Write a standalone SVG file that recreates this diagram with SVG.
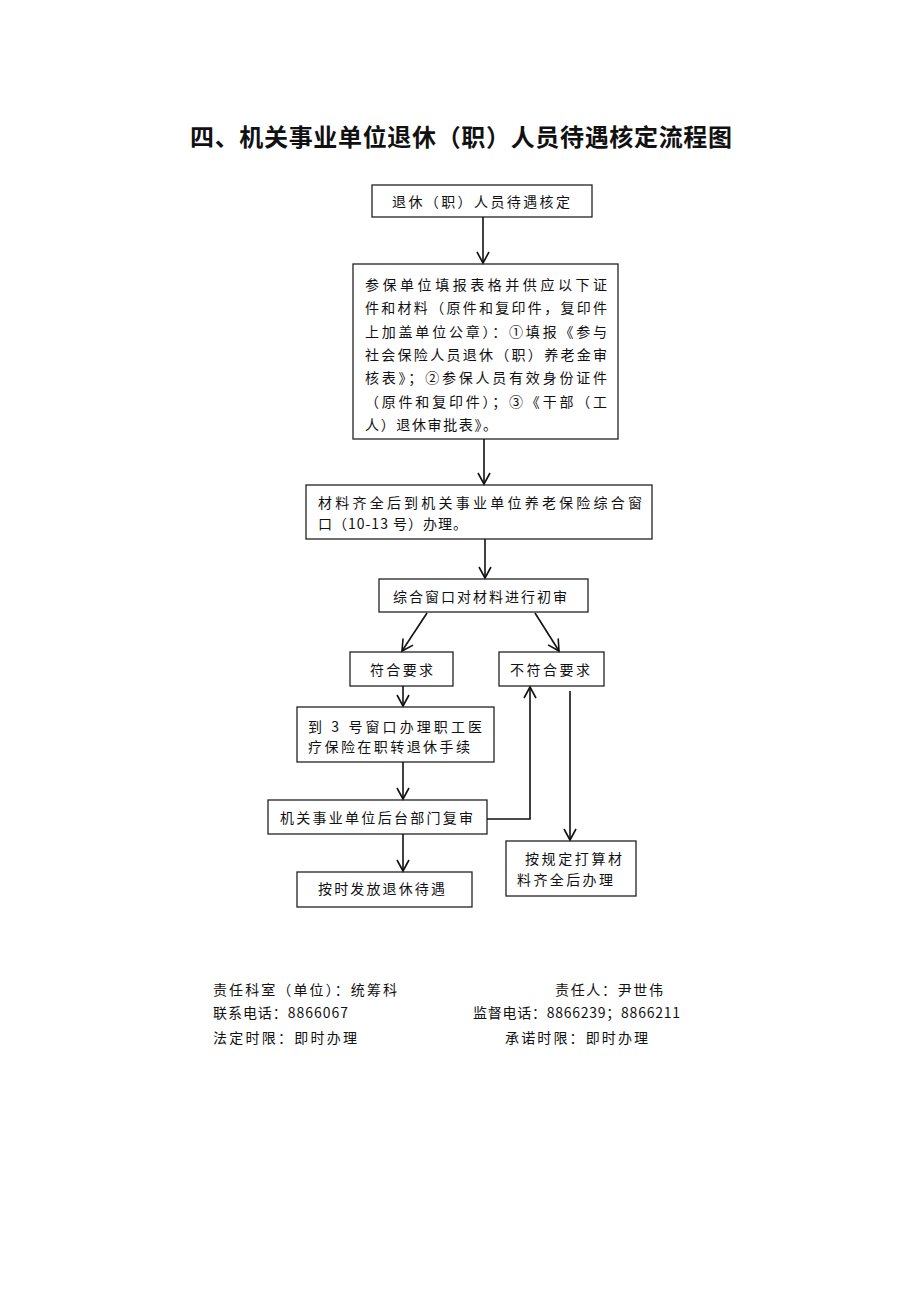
<svg xmlns="http://www.w3.org/2000/svg" width="920" height="1302" viewBox="0 0 920 1302">
<style>
text{font-family:"Noto Sans CJK SC","Noto Sans",sans-serif;fill:#111;font-size:14px}
.title{font-size:24px;font-weight:bold}
.box{fill:#fff;stroke:#222;stroke-width:1.3}
.ln{fill:none;stroke:#111;stroke-width:1.6}
</style>
<defs>
<marker id="ah" markerUnits="userSpaceOnUse" markerWidth="14" markerHeight="14" refX="12" refY="7" orient="auto" viewBox="0 0 14 14">
<path d="M1,1 L12,7 L1,13" fill="none" stroke="#111" stroke-width="1.6"/>
</marker>
</defs>
<rect width="920" height="1302" fill="#fff"/>
<text class="title" x="190" y="146" textLength="542" lengthAdjust="spacing">四、机关事业单位退休（职）人员待遇核定流程图</text>

<g id="n1"><rect class="box" x="372" y="185" width="220" height="32"/><text x="392" y="207" textLength="178" lengthAdjust="spacing">退休（职）人员待遇核定</text></g>
<g id="n2"><rect class="box" x="353" y="264" width="265" height="175"/>
<text x="365" y="290" textLength="242" lengthAdjust="spacing">参保单位填报表格并供应以下证</text>
<text x="365" y="313" textLength="242" lengthAdjust="spacing">件和材料（原件和复印件，复印件</text>
<text x="365" y="337" textLength="242" lengthAdjust="spacing">上加盖单位公章）：①填报《参与</text>
<text x="365" y="360" textLength="242" lengthAdjust="spacing">社会保险人员退休（职）养老金审</text>
<text x="365" y="383" textLength="242" lengthAdjust="spacing">核表》；②参保人员有效身份证件</text>
<text x="365" y="407" textLength="242" lengthAdjust="spacing">（原件和复印件）；③《干部（工</text>
<text x="365" y="430" textLength="132" lengthAdjust="spacing">人）退休审批表》。</text></g>
<g id="n3"><rect class="box" x="306" y="485" width="346" height="54"/>
<text x="318" y="508" textLength="324" lengthAdjust="spacing">材料齐全后到机关事业单位养老保险综合窗</text>
<text x="318" y="529" textLength="149" lengthAdjust="spacing">口（10-13 号）办理。</text></g>
<g id="n4"><rect class="box" x="379" y="579" width="209" height="33"/><text x="393" y="602" textLength="174" lengthAdjust="spacing">综合窗口对材料进行初审</text></g>
<g id="n5"><rect class="box" x="350" y="652" width="103" height="34"/><text x="370" y="675" textLength="63" lengthAdjust="spacing">符合要求</text></g>
<g id="n6"><rect class="box" x="499" y="652" width="105" height="34"/><text x="510" y="675" textLength="80" lengthAdjust="spacing">不符合要求</text></g>
<g id="n7"><rect class="box" x="297" y="707" width="197" height="55"/>
<text x="308" y="732" textLength="174" lengthAdjust="spacing">到 3 号窗口办理职工医</text>
<text x="308" y="752" textLength="162" lengthAdjust="spacing">疗保险在职转退休手续</text></g>
<g id="n8"><rect class="box" x="268" y="800" width="219" height="34"/><text x="280" y="823" textLength="193" lengthAdjust="spacing">机关事业单位后台部门复审</text></g>
<g id="n9"><rect class="box" x="506" y="841" width="130" height="55"/>
<text x="525" y="864" textLength="97" lengthAdjust="spacing">按规定打算材</text>
<text x="517" y="885" textLength="96" lengthAdjust="spacing">料齐全后办理</text></g>
<g id="n10"><rect class="box" x="297" y="872" width="175" height="35"/><text x="318" y="894" textLength="127" lengthAdjust="spacing">按时发放退休待遇</text></g>

<g id="connectors">
<line class="ln" x1="483" y1="217" x2="483" y2="263" marker-end="url(#ah)"/>
<line class="ln" x1="484" y1="439" x2="484" y2="484" marker-end="url(#ah)"/>
<line class="ln" x1="485" y1="539" x2="485" y2="578" marker-end="url(#ah)"/>
<line class="ln" x1="427" y1="613" x2="402" y2="651" marker-end="url(#ah)"/>
<line class="ln" x1="535" y1="613" x2="559" y2="651" marker-end="url(#ah)"/>
<line class="ln" x1="403" y1="686" x2="403" y2="706" marker-end="url(#ah)"/>
<line class="ln" x1="403" y1="762" x2="403" y2="799" marker-end="url(#ah)"/>
<line class="ln" x1="403" y1="834" x2="403" y2="871" marker-end="url(#ah)"/>
<polyline class="ln" points="487,819 530,819 530,687" marker-end="url(#ah)"/>
<line class="ln" x1="570" y1="691" x2="570" y2="840" marker-end="url(#ah)"/>
</g>

<g id="footer">
<text x="213" y="995" textLength="184" lengthAdjust="spacing">责任科室（单位）：统筹科</text>
<text x="555" y="995" textLength="108" lengthAdjust="spacing">责任人：尹世伟</text>
<text x="213" y="1018" textLength="135" lengthAdjust="spacing">联系电话：8866067</text>
<text x="473" y="1018" textLength="207" lengthAdjust="spacing">监督电话：8866239；8866211</text>
<text x="213" y="1043" textLength="144" lengthAdjust="spacing">法定时限：即时办理</text>
<text x="505" y="1043" textLength="143" lengthAdjust="spacing">承诺时限：即时办理</text>
</g>
</svg>
